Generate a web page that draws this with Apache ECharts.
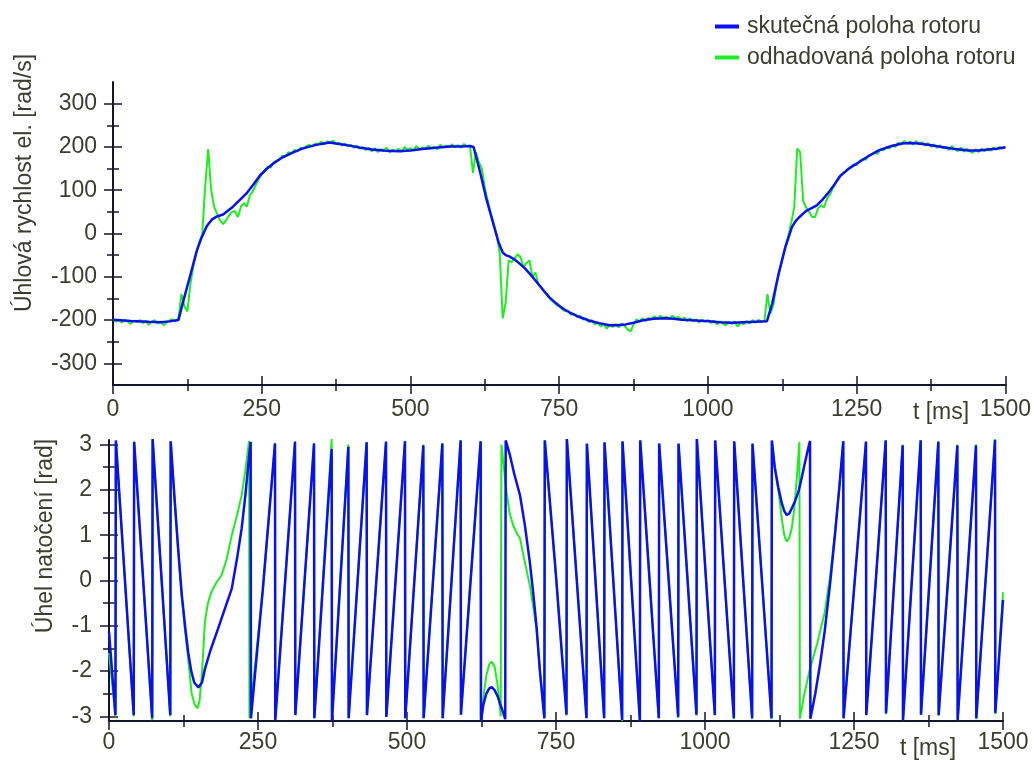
<!DOCTYPE html>
<html>
<head>
<meta charset="utf-8">
<script src="https://cdn.jsdelivr.net/npm/echarts@6/dist/echarts.min.js"></script>
<style>html,body{margin:0;background:#fff}#chart{width:1034px;height:760px}</style>
</head>
<body>
<div id="chart"></div>
<script>
const seriesNames = ['skutečná poloha rotoru', 'odhadovaná poloha rotoru'];

const timeTicks = [0, 250, 500, 750, 1000, 1250, 1500];
const timeMinorTicks = [125, 375, 625, 875, 1125, 1375];
const speedTicks = [-300, -200, -100, 0, 100, 200, 300];
const speedMinorTicks = [-250, -150, -50, 50, 150, 250];
const angleTicks = [-3, -2, -1, 0, 1, 2, 3];
const angleMinorTicks = [-2.5, -1.5, -0.5, 0.5, 1.5, 2.5];

// top: electrical speed [rad/s], actual (t, value)
const speedActual = [
  [0,-199],[30,-202],[60,-204],[80,-205],[95,-203],[110,-200],[117,-162],[129,-101],[141,-39],[149,-9],
  [158,18],[166,32],[174,39],[185,44],[200,60],[212,76],[224,92],[236,113],[247,134],[258,149],
  [269,161],[285,176],[302,187],[318,196],[336,203],[350,207],[364,210],[380,207],[398,203],[416,198],
  [436,194],[458,191],[481,190],[500,192],[520,195],[542,198],[565,201],[585,201],[600,202],[606,200],
  [617,142],[627,83],[641,14],[648,-20],[655,-44],[660,-50],[666,-53],[675,-60],[683,-69],[692,-80],
  [700,-92],[708,-105],[717,-120],[725,-134],[733,-147],[742,-158],[750,-167],[758,-175],[767,-182],[784,-193],
  [800,-201],[817,-207],[834,-212],[848,-212],[862,-210],[875,-206],[889,-201],[908,-197],[929,-196],[942,-197],
  [956,-199],[980,-201],[1002,-203],[1020,-205],[1040,-206],[1060,-205],[1080,-204],[1099,-203],[1108,-162],[1119,-92],
  [1130,-32],[1141,14],[1147,28],[1153,37],[1160,46],[1166,53],[1175,59],[1183,65],[1193,79],[1203,95],
  [1213,114],[1223,134],[1238,151],[1253,164],[1270,179],[1287,192],[1306,201],[1326,208],[1340,209],[1354,208],
  [1370,205],[1388,201],[1412,196],[1438,192],[1455,192],[1471,194],[1485,196],[1500,199]
];

// top: estimated speed, one value every 5 ms from t = 0
const speedEstStep = 5;
const speedEstimated = [
  -198,-203,-200,-206,-199,-204,-209,-201,-205,-200,
  -207,-202,-211,-204,-200,-208,-203,-212,-205,-201,
  -198,-203,-196,-140,-168,-180,-118,-75,-45,-20,
  -2,110,195,100,62,45,30,22,30,42,
  50,52,38,62,70,62,88,98,112,125,
  138,143,155,152,165,168,172,180,178,188,
  185,193,190,198,196,202,205,200,208,206,
  212,207,213,209,215,206,210,203,208,201,
  205,198,203,196,200,193,198,190,197,188,
  195,191,198,187,194,190,196,189,200,193,
  197,192,202,194,199,195,203,197,200,194,
  205,198,203,199,206,200,204,198,207,201,
  203,140,188,165,150,105,75,45,22,-5,
  -45,-196,-160,-62,-66,-58,-48,-55,-78,-68,
  -62,-100,-90,-118,-125,-133,-140,-152,-158,-165,
  -168,-175,-180,-178,-188,-185,-193,-190,-199,-196,
  -205,-200,-210,-206,-215,-208,-220,-210,-216,-209,
  -217,-208,-213,-222,-226,-210,-198,-204,-196,-202,
  -195,-199,-191,-197,-190,-196,-192,-198,-190,-196,
  -193,-200,-194,-202,-196,-203,-198,-206,-199,-204,
  -200,-207,-201,-210,-203,-208,-212,-204,-209,-203,
  -215,-205,-210,-202,-208,-200,-206,-199,-205,-201,
  -140,-185,-165,-118,-88,-58,-30,-5,25,60,
  196,188,75,60,50,38,38,58,65,60,
  80,90,105,118,130,136,142,150,153,160,
  158,168,172,170,180,182,186,184,194,192,
  200,196,204,200,210,205,214,207,212,205,
  214,206,211,203,209,200,206,198,204,197,
  200,193,202,195,190,199,189,196,190,186,
  195,188,196,190,197,191,199,194,200,196,
  200
];

// bottom: rotor angle [rad], actual (t, value)
const angleActual = [
  [0,-1.13],[10.8,-2.97],[11.5,3.09],[41.5,-2.97],[42.2,3.06],[72.5,-3.04],[73.2,3.12],[102.8,-2.97],[103.5,3.07],
  [110,1.8],[116,0.7],[122,-0.3],[128,-1.05],[133,-1.6],[138,-2.0],[143,-2.25],[150,-2.36],[156,-2.25],[161,-1.95],
  [170,-1.55],[183,-1.06],[195,-0.6],[206,-0.18],[215,0.5],[222.6,1.15],[229,1.9],[234,2.61],[237.7,3.06],
  [238.2,-3.04],[258,-0.2],[278.5,3.02],[279,-3.08],[312.1,3.06],[312.6,-2.97],[344,3.02],[344.5,-3.04],
  [373.6,2.9],[374.1,-3.1],[401.6,2.95],[402.1,-3.04],[432.3,3.05],[432.8,-2.97],[464.8,3.06],[465.3,-3.01],
  [496.6,3.07],[497.1,-3.04],[527.4,2.98],[527.9,-3.04],[559.3,3.02],[559.8,-3.04],[590,3.09],[590.5,-2.96],
  [623.6,3.07],[624.2,-3.1],[628,-2.75],[633,-2.5],[638,-2.38],[642,-2.35],[647,-2.42],[652,-2.55],[657,-2.75],
  [661,-2.9],[664.8,-3.06],[665.6,3.09],[672.8,2.76],[680,2.35],[689.6,1.88],[698,1.2],[706,0.41],[712,-0.3],
  [717.6,-1.06],[723,-2.0],[730.5,-3.04],[731.2,3.09],[750,0.1],[767.6,-2.96],[768.2,3.12],[801.2,-3.04],[801.8,3.02],
  [830.8,-3.04],[831.4,3.05],[861,-3.08],[861.6,3.07],[890.7,-3.1],[891.3,3.09],[922.5,-3.04],[923.1,3.02],
  [955,-3.01],[955.6,3.02],[985.7,-2.96],[986.3,3.13],[1016.5,-2.97],[1017.1,3.09],[1048.4,-3.04],[1049,3.07],
  [1079.1,-3.04],[1079.7,3.02],[1111.6,-3.04],[1112.2,3.09],[1117,2.5],[1123,2.05],[1129,1.7],[1133,1.53],
  [1137,1.45],[1141,1.47],[1145.6,1.59],[1151,1.75],[1156.8,1.96],[1162,2.25],[1168,2.62],[1172,2.85],[1176.2,3.08],
  [1176.8,-3.05],[1185,-2.5],[1193,-1.85],[1201,-1.1],[1210,-0.05],[1218,1.0],[1225,2.0],[1232,3.07],
  [1232.5,-3.04],[1270.1,3.06],[1270.6,-2.97],[1303.2,3.09],[1303.7,-2.93],[1331.7,2.98],[1332.2,-3.08],
  [1361.9,3.09],[1362.4,-2.96],[1391.5,3.06],[1392,-2.97],[1423.4,2.98],[1423.9,-3.08],[1454.7,2.98],[1455.2,-3.04],
  [1486.6,3.1],[1487.1,-2.92],[1500,-0.43]
];

// bottom: estimated angle [rad]
const angleEstimated = [
  [0,-1.6],[10.8,-3.0],[11.5,3.08],[41.5,-3.0],[42.2,3.06],[72.5,-3.08],[73.2,3.1],[102.8,-3.0],[103.5,3.07],
  [110,1.8],[116,0.7],[122,-0.35],[128,-1.15],[133,-1.75],[138.7,-2.5],[144,-2.75],[148.8,-2.82],[152,-2.65],
  [156,-2.05],[161,-0.9],[166,-0.5],[172,-0.25],[180,-0.05],[189,0.12],[197,0.45],[206,1.0],[215,1.45],
  [222.6,1.88],[229,2.45],[235,3.08],[235.6,-3.04],[258,-0.25],[278.5,3.04],[279,-3.06],[312.1,3.07],[312.6,-2.97],
  [344,3.03],[344.5,-3.04],[373.6,3.12],[374.1,-3.08],[401.6,3.0],[402.1,-3.04],[432.3,3.06],[432.8,-2.97],
  [464.8,3.07],[465.3,-3.01],[496.6,3.08],[497.1,-3.04],[527.4,3.0],[527.9,-3.04],[559.3,3.03],[559.8,-3.04],
  [590,3.1],[590.5,-2.96],[623.4,3.08],[623.8,-3.04],[628,-2.6],[633,-2.1],[638,-1.85],[642,-1.79],[647,-1.9],
  [652,-2.3],[657.2,-3.0],[658.4,3.0],[661,2.7],[664,2.3],[667,1.96],[672,1.5],[678,1.22],[684,1.05],[689.6,0.93],
  [697,0.45],[706,-0.1],[712,-0.6],[717.6,-1.1],[723,-2.0],[730.5,-3.04],[731.2,3.1],[750,0.1],[767.6,-2.98],
  [768.2,3.13],[801.2,-3.03],[801.8,3.0],[830.8,-3.04],[831.4,3.04],[861,-3.1],[861.6,3.05],[890.7,-3.1],[891.3,3.1],
  [922.5,-3.04],[923.1,3.02],[955,-3.03],[955.6,3.0],[985.7,-2.98],[986.3,3.12],[1016.5,-2.97],[1017.1,3.08],
  [1048.4,-3.06],[1049,3.05],[1079.1,-3.06],[1079.7,3.0],[1111.6,-3.06],[1112.2,3.08],[1117,2.5],[1123,2.0],
  [1129,1.35],[1133,1.0],[1137,0.86],[1141,0.92],[1145.6,1.15],[1150,1.6],[1154,2.25],[1158.4,3.06],[1159.2,-3.05],
  [1166,-2.55],[1176,-1.95],[1188,-1.4],[1201,-0.7],[1210,0.1],[1218,1.05],[1225,2.0],[1232,3.08],
  [1232.5,-3.04],[1270.1,3.07],[1270.6,-2.97],[1303.2,3.1],[1303.7,-2.95],[1331.7,3.0],[1332.2,-3.08],
  [1361.9,3.1],[1362.4,-2.96],[1391.5,3.07],[1392,-2.99],[1423.4,3.0],[1423.9,-3.08],[1454.7,3.0],[1455.2,-3.06],
  [1486.6,3.12],[1487.1,-2.95],[1500,-0.26]
];

const blue = '#0a10f2';
const green = '#1eee1e';
const ink = '#16162a';
const textInk = '#3c3c30';
const font = '"Liberation Sans", Arial, sans-serif';

// main axis (line + labels) plus two offset axes that draw ticks crossing the line
function axisSet(dim, gridIndex, min, max, majors, minors, labelMargin) {
  const common = {
    type: 'value', gridIndex, min, max,
    position: dim === 'x' ? 'bottom' : 'left',
    splitLine: { show: false }
  };
  const main = Object.assign({}, common, {
    axisLine: { show: true, onZero: false, lineStyle: { color: ink, width: 2 } },
    axisTick: { show: false },
    axisLabel: {
      customValues: majors, margin: labelMargin, color: textInk, fontSize: 23, fontFamily: font,
      formatter: v => String(v)
    }
  });
  const ticks = (values, half) => Object.assign({}, common, {
    offset: -half,
    axisLine: { show: false, onZero: false },
    axisTick: { show: true, customValues: values, length: half * 2, lineStyle: { color: ink, width: 1.5 } },
    axisLabel: { show: false }
  });
  return [main, ticks(majors, 9), ticks(minors, 6)];
}

const chart = echarts.init(document.getElementById('chart'));

const lineSeries = (name, data, axis, color, width) => ({
  name, type: 'line', data,
  xAxisIndex: axis, yAxisIndex: axis,
  symbol: 'none', showSymbol: false,
  lineStyle: { color, width },
  itemStyle: { color },
  animation: false
});

chart.setOption({
  animation: false,
  textStyle: { fontFamily: font },
  grid: [
    { left: 113, top: 82, width: 894, height: 303 },
    { left: 109, top: 440, width: 894, height: 281 }
  ],
  xAxis: [
    ...axisSet('x', 0, 0, 1500, timeTicks, timeMinorTicks, 13),
    ...axisSet('x', 1, 0, 1500, timeTicks, timeMinorTicks, 10)
  ],
  yAxis: [
    ...axisSet('y', 0, -350, 350, speedTicks, speedMinorTicks, 16),
    ...axisSet('y', 1, -3.1, 3.1, angleTicks, angleMinorTicks, 17)
  ],
  legend: {
    data: seriesNames,
    orient: 'vertical',
    left: 710,
    top: 10,
    icon: 'rect',
    itemWidth: 24,
    itemHeight: 4,
    itemGap: 8,
    textStyle: { fontSize: 23, color: textInk, fontFamily: font, padding: [0, 0, 0, 3] }
  },
  graphic: [
    { type: 'text', x: 25, y: 183, rotation: Math.PI / 2,
      style: { text: 'Úhlová rychlost el. [rad/s]', fontSize: 23, fontFamily: font, fill: textInk, align: 'center', verticalAlign: 'middle' } },
    { type: 'text', x: 46, y: 536, rotation: Math.PI / 2,
      style: { text: 'Úhel natočení [rad]', fontSize: 23, fontFamily: font, fill: textInk, align: 'center', verticalAlign: 'middle' } },
    { type: 'text', x: 941, y: 413,
      style: { text: 't [ms]', fontSize: 23, fontFamily: font, fill: textInk, align: 'center', verticalAlign: 'middle' } },
    { type: 'text', x: 928, y: 749,
      style: { text: 't [ms]', fontSize: 23, fontFamily: font, fill: textInk, align: 'center', verticalAlign: 'middle' } }
  ],
  series: [
    lineSeries(seriesNames[1], speedEstimated.map((v, i) => [i * speedEstStep, v]), 0, green, 2),
    lineSeries(seriesNames[0], speedActual, 0, blue, 2.5),
    lineSeries(seriesNames[1], angleEstimated, 3, green, 2),
    lineSeries(seriesNames[0], angleActual, 3, blue, 2.5)
  ]
});
</script>
</body>
</html>
